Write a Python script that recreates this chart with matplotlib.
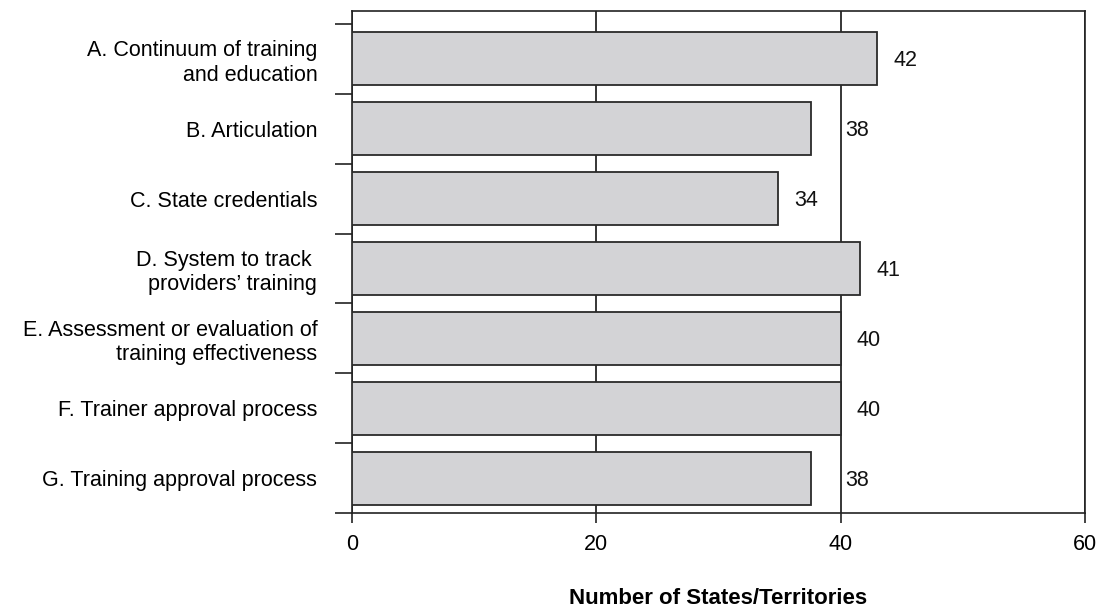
import numpy as np
import matplotlib
matplotlib.use('Agg')
import matplotlib.pyplot as plt
from matplotlib.ticker import FixedLocator

plt.rcParams['font.family'] = ['Liberation Sans', 'DejaVu Sans']

'''DATA'''
categories = ['A. Continuum of training\nand education',
              'B. Articulation',
              'C. State credentials',
              'D. System to track \nproviders\u2019 training',
              'E. Assessment or evaluation of\ntraining effectiveness',
              'F. Trainer approval process',
              'G. Training approval process']
bar_lengths = [43.0, 37.6, 34.9, 41.6, 40.0, 40.0, 37.6]   # as drawn in the picture
value_labels = ['42', '38', '34', '41', '40', '40', '38']
x_ticks = [0, 20, 40, 60]

'''PLOT GENERATION'''
fig = plt.figure(figsize=(11.09, 6.07), dpi=100)
ax = fig.add_axes([0.3174, 0.1549, 0.661, 0.827])

y = np.arange(len(categories))
ax.barh(y, bar_lengths, height=0.76, color='#d3d3d6', edgecolor='#2a2a2a', linewidth=1.3, zorder=3)

# labels sit just right of the bar, but never on top of a gridline
for yi, length, lab in zip(y, bar_lengths, value_labels):
    start = length + 1.3
    for g in x_ticks[1:-1]:
        if start - 0.2 < g < start + 2.2:
            start = g + 0.35
    ax.annotate(lab, xy=(start, yi), xytext=(0, -2), textcoords='offset pixels',
                ha='left', va='center', fontsize=15.5, color='#111111')

'''PLOT SETTINGS'''
ax.set_xlim(0, 60)
ax.set_ylim(len(categories) - 0.5, -0.686)
ax.set_xticks(x_ticks)
ax.set_xticklabels([str(t) for t in x_ticks], fontsize=15.5)
ax.tick_params(axis='x', length=7, width=1.2, direction='out', pad=8, color='#222222')

ax.set_yticks(y)
ax.set_yticklabels(categories, fontsize=15.5)
ax.tick_params(axis='y', which='major', length=0, pad=25)
ax.yaxis.set_minor_locator(FixedLocator(np.arange(-0.5, len(categories), 1.0)))
ax.tick_params(axis='y', which='minor', length=12, width=1.2, direction='out', color='#222222')

ax.grid(axis='x', color='black', linewidth=1.1, zorder=1)
ax.set_axisbelow(True)
for s in ax.spines.values():
    s.set_color('#222222')
    s.set_linewidth(1.2)

ax.set_xlabel('Number of States/Territories', fontsize=16, fontweight='bold', labelpad=24)

fig.savefig('out.png', dpi=100)
plt.close()
